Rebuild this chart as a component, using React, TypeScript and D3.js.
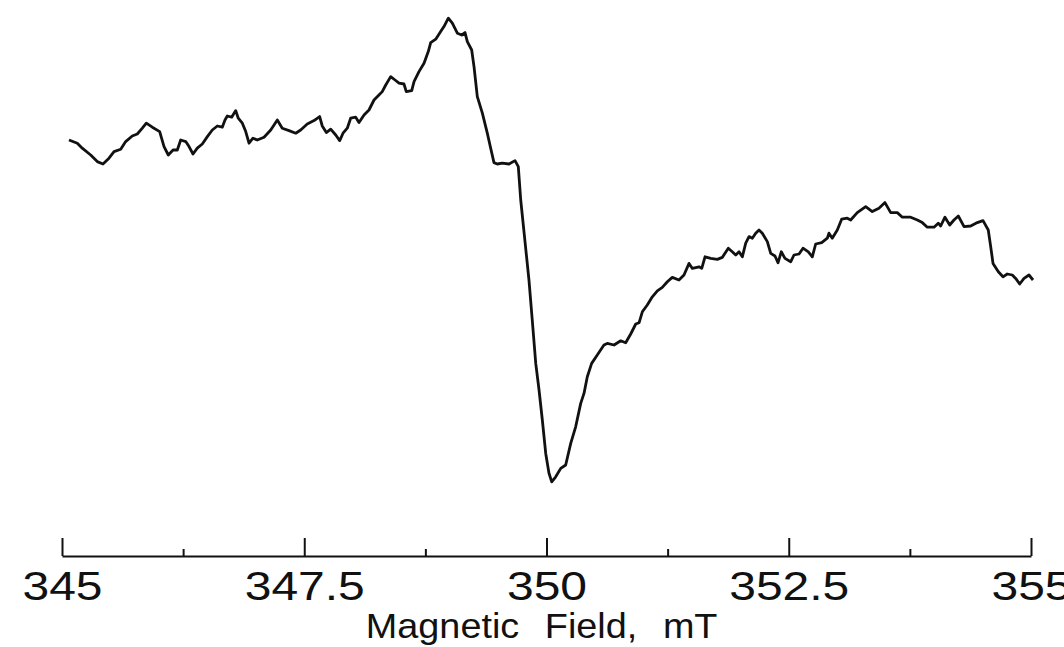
import React, { useRef, useEffect } from 'react';
import * as d3 from 'd3';

// field positions (mT)
const fieldMT = [
  345.072, 345.158, 345.209, 345.296, 345.364, 345.423, 345.485, 345.537, 345.606, 345.657,
  345.725, 345.777, 345.829, 345.87, 345.932, 346.008, 346.053, 346.097, 346.146, 346.19,
  346.225, 346.277, 346.311, 346.352, 346.396, 346.448, 346.5, 346.551, 346.603, 346.654,
  346.682, 346.706, 346.751, 346.793, 346.819, 346.861, 346.896, 346.93, 346.971, 347.015,
  347.085, 347.154, 347.222, 347.273, 347.343, 347.412, 347.463, 347.531, 347.601, 347.659,
  347.686, 347.728, 347.773, 347.825, 347.866, 347.9, 347.944, 347.979, 348.031, 348.065,
  348.117, 348.168, 348.22, 348.271, 348.305, 348.341, 348.392, 348.437, 348.478, 348.529,
  348.553, 348.609, 348.633, 348.684, 348.736, 348.78, 348.805, 348.857, 348.908, 348.942,
  348.987, 349.028, 349.08, 349.125, 349.159, 349.183, 349.228, 349.252, 349.286, 349.338,
  349.389, 349.424, 349.458, 349.492, 349.544, 349.613, 349.675, 349.709, 349.734, 349.819,
  349.853, 349.889, 349.923, 349.957, 349.992, 350.026, 350.054, 350.095, 350.147, 350.198,
  350.25, 350.301, 350.353, 350.387, 350.421, 350.466, 350.524, 350.593, 350.627, 350.697,
  350.766, 350.817, 350.869, 350.921, 350.955, 350.989, 351.04, 351.092, 351.144, 351.195,
  351.247, 351.298, 351.367, 351.419, 351.471, 351.505, 351.574, 351.602, 351.636, 351.695,
  351.763, 351.814, 351.876, 351.917, 351.953, 351.987, 352.021, 352.056, 352.09, 352.124,
  352.159, 352.193, 352.227, 352.279, 352.314, 352.358, 352.389, 352.423, 352.461, 352.52,
  352.554, 352.606, 352.647, 352.702, 352.743, 352.778, 352.84, 352.898, 352.915, 352.949,
  353.001, 353.046, 353.104, 353.139, 353.207, 353.294, 353.362, 353.431, 353.493, 353.552,
  353.62, 353.672, 353.758, 353.827, 353.878, 353.93, 353.999, 354.043, 354.068, 354.112,
  354.161, 354.205, 354.25, 354.309, 354.378, 354.446, 354.505, 354.559, 354.584, 354.608,
  354.663, 354.711, 354.755, 354.807, 354.842, 354.883, 354.928, 354.979, 355.021,
];

// first-derivative signal, arbitrary units
const signal = [
  55.0, 53.4, 50.9, 47.5, 44.2, 43.0, 45.9, 49.2, 50.4, 54.2,
  57.0, 58.0, 60.9, 63.4, 61.4, 59.2, 51.7, 47.5, 50.0, 50.0,
  55.0, 54.2, 51.7, 48.0, 50.9, 53.0, 56.7, 60.0, 62.0, 61.4,
  65.0, 67.0, 66.4, 69.7, 65.9, 63.4, 59.2, 53.4, 55.9, 55.0,
  56.4, 60.0, 65.0, 60.9, 59.7, 58.4, 60.0, 63.0, 64.7, 66.7,
  62.0, 58.7, 60.4, 57.5, 54.7, 58.4, 60.9, 65.9, 66.4, 63.7,
  67.5, 70.0, 75.0, 77.5, 79.2, 82.5, 86.7, 85.0, 83.4, 83.0,
  79.2, 79.7, 84.2, 89.2, 93.4, 99.2, 103.7, 105.4, 109.2, 111.7,
  115.9, 113.4, 108.4, 107.5, 108.7, 104.2, 100.0, 91.7, 76.7, 68.4,
  58.4, 50.9, 43.7, 43.0, 43.4, 43.0, 44.7, 41.7, 25.0, -15.0,
  -35.0, -56.7, -70.0, -85.0, -101.7, -111.7, -115.9, -113.4, -109.2, -107.5,
  -96.7, -88.4, -76.7, -71.7, -63.4, -56.7, -52.5, -47.5, -46.7, -47.5,
  -45.4, -46.4, -42.0, -37.0, -36.4, -30.9, -27.5, -23.4, -20.4, -18.7,
  -15.9, -13.7, -15.0, -12.5, -6.7, -9.2, -8.4, -9.2, -3.4, -4.2,
  -4.7, -3.7, 0.9, -0.9, -2.5, -0.9, -3.4, 3.4, 6.7, 5.9,
  8.4, 10.0, 8.4, 4.2, -1.7, -3.0, -6.4, -0.9, -4.2, -5.9,
  -2.5, -2.0, 0.9, -0.9, -3.4, 3.0, 3.7, 5.9, 8.4, 5.9,
  10.0, 15.4, 15.9, 15.0, 18.7, 21.7, 19.2, 20.9, 23.7, 18.7,
  18.7, 16.4, 16.4, 15.0, 13.7, 11.4, 11.4, 13.4, 12.0, 16.4,
  12.5, 15.0, 17.0, 11.7, 12.0, 13.7, 14.7, 10.0, 1.7, -6.7,
  -10.9, -13.4, -12.0, -12.5, -14.2, -17.0, -14.2, -12.5, -15.0,
];

const majorTicks = [345, 347.5, 350, 352.5, 355];
const minorTicks = [346.25, 348.75, 351.25, 353.75];
const axisTitle = 'Magnetic Field, mT';

function EprSpectrum() {
  const svgRef = useRef<SVGSVGElement | null>(null);

  useEffect(() => {
    document.body.style.margin = '0';
    const svg = d3.select(svgRef.current);
    svg.selectAll('*').remove();

    const axisY = 556;
    const xScale = d3.scaleLinear().domain([345, 355]).range([62, 1031]);
    const yScale = d3.scaleLinear().domain([-120, 120]).range([490, 10]);

    const points = fieldMT.map((f, i) => ({ field: f, value: signal[i] }));

    const lineGen = d3
      .line<{ field: number; value: number }>()
      .x((d) => xScale(d.field))
      .y((d) => yScale(d.value));

    svg
      .append('path')
      .datum(points)
      .attr('d', lineGen)
      .attr('fill', 'none')
      .attr('stroke', '#111')
      .attr('stroke-width', 2.8)
      .attr('stroke-linejoin', 'round');

    // minor ticks (no labels), pointing up
    const minorAxis = d3
      .axisBottom(xScale)
      .tickValues(minorTicks)
      .tickSize(-7)
      .tickSizeOuter(0)
      .tickFormat(() => '');
    const gMinor = svg.append('g').attr('transform', `translate(0,${axisY})`).call(minorAxis);
    gMinor.select('.domain').remove();
    gMinor.selectAll('line').attr('stroke', '#111').attr('stroke-width', 2);

    // major ticks with labels
    const majorAxis = d3
      .axisBottom(xScale)
      .tickValues(majorTicks)
      .tickSize(-18)
      .tickSizeOuter(0)
      .tickPadding(16)
      .tickFormat((d) => `${d}`);
    const gMajor = svg.append('g').attr('transform', `translate(0,${axisY})`).call(majorAxis);
    gMajor
      .attr('font-family', '"Liberation Sans", Arial, sans-serif')
      .attr('font-size', 40);
    gMajor.select('.domain').attr('stroke', '#111').attr('stroke-width', 2);
    gMajor.selectAll('line').attr('stroke', '#111').attr('stroke-width', 2);
    gMajor
      .selectAll<SVGTextElement, number>('text')
      .attr('fill', '#111')
      .each(function () {
        const w = this.getComputedTextLength();
        d3.select(this).attr('textLength', w * 1.2).attr('lengthAdjust', 'spacingAndGlyphs');
      });

    const title = svg
      .append('text')
      .attr('x', xScale(349.95))
      .attr('y', 638)
      .attr('text-anchor', 'middle')
      .attr('font-family', '"Liberation Sans", Arial, sans-serif')
      .attr('font-size', 35)
      .attr('word-spacing', 14)
      .attr('fill', '#111')
      .text(axisTitle);
    const tw = (title.node() as SVGTextElement).getComputedTextLength();
    title.attr('textLength', tw * 1.08).attr('lengthAdjust', 'spacingAndGlyphs');
  }, []);

  return <svg ref={svgRef} width={1064} height={647} style={{ display: 'block', background: '#fff' }} />;
}

export default function App() {
  return <EprSpectrum />;
}
